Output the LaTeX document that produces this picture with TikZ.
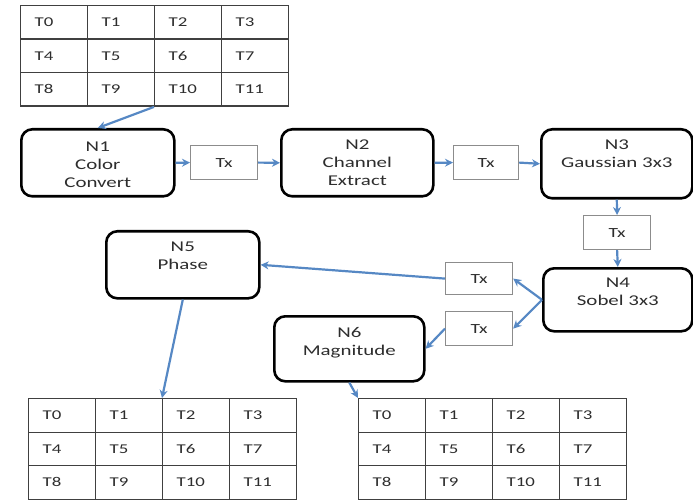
\documentclass[tikz,border=0pt]{standalone}
\usepackage{graphicx}
\usepackage{fontspec}
\setmainfont{Carlito}
\usetikzlibrary{arrows.meta}
\definecolor{arrowblue}{RGB}{86,136,196}
\definecolor{txtgray}{RGB}{45,45,45}
\newcommand{\sx}[1]{\scalebox{1.4}[1]{#1}}
\begin{document}
\begin{tikzpicture}[x=1bp,y=-1bp,
  proc/.style={draw=black, line width=2.6bp, rounded corners=11bp, anchor=north west, inner sep=0},
  txbox/.style={draw=black!45, line width=1.2bp, anchor=north west, inner sep=0, minimum width=67bp, minimum height=34bp, text=txtgray, font=\fontsize{14}{16}\selectfont},
  cell/.style={draw=black!75, line width=1.4bp, anchor=north west, minimum width=67bp, minimum height=33.5bp, text width=39bp, inner xsep=14bp, inner ysep=0, align=left, text=txtgray, font=\fontsize{13.5}{15}\selectfont},
  lbl/.style={anchor=north, align=center, inner sep=0, text=txtgray, font=\fontsize{15}{18}\selectfont},
  conn/.style={draw=arrowblue, line width=2.2bp, -{Stealth[length=8bp,width=8bp]}}]
\useasboundingbox (0,0) rectangle (693,500);

% grids
\foreach \g/\gx/\gy in {ga/20/5, gb/28/398, gc/358/398} {
  \foreach \r in {0,1,2} {
    \foreach \c in {0,1,2,3} {
      \pgfmathtruncatemacro\k{\r*4+\c}
      \node[cell] (\g-\r-\c) at ({\gx+\c*67},{\gy+\r*33.5}) {\sx{T\k}};
    }
  }
}

% process boxes
\node[proc, minimum width=153bp, minimum height=67bp] (n1) at (20,128) {};
\node[proc, minimum width=152bp, minimum height=67bp] (n2) at (280,128) {};
\node[proc, minimum width=151bp, minimum height=69bp] (n3) at (540,128) {};
\node[proc, minimum width=149bp, minimum height=63bp] (n4) at (542,267) {};
\node[proc, minimum width=153bp, minimum height=67bp] (n5) at (105,230) {};
\node[proc, minimum width=150bp, minimum height=65bp] (n6) at (273,315) {};

\node[lbl] (l1) at ([yshift=-14bp]n1.north) {\sx{N1}\\\sx{Color}\\\sx{Convert}};
\node[lbl] (l2) at ([yshift=-12bp]n2.north) {\sx{N2}\\\sx{Channel}\\\sx{Extract}};
\node[lbl] (l3) at ([yshift=-12bp]n3.north) {\sx{N3}\\\sx{Gaussian 3x3}};
\node[lbl] (l4) at ([yshift=-11bp]n4.north) {\sx{N4}\\\sx{Sobel 3x3}};
\node[lbl] (l5) at ([yshift=-12bp]n5.north) {\sx{N5}\\\sx{Phase}};
\node[lbl] (l6) at ([yshift=-12bp]n6.north) {\sx{N6}\\\sx{Magnitude}};

% transfer boxes
\node[txbox] (tx1) at (190,145) {\sx{Tx}};
\node[txbox, minimum width=65bp] (tx2) at (453,145) {\sx{Tx}};
\node[txbox] (tx3) at (583,215) {\sx{Tx}};
\node[txbox, minimum height=32bp] (tx4) at (445,262) {\sx{Tx}};
\node[txbox] (tx5) at (445,311) {\sx{Tx}};

% connectors
\draw[conn] (ga-2-2.south west) -- (n1.north);
\draw[conn] (n1.east) -- (tx1.west);
\draw[conn] (tx1.east) -- (n2.west);
\draw[conn] (n2.east) -- (tx2.west);
\draw[conn] (tx2.east) -- (n3.west);
\draw[conn] (n3.south) -- (tx3.north);
\draw[conn] (tx3.south) -- (n4.north);
\draw[conn] (n4.west) -- (tx4.east);
\draw[conn] (n4.west) -- (tx5.east);
\draw[conn] (tx4.west) -- (n5.east);
\draw[conn] (tx5.west) -- (n6.east);
\draw[conn] (n5.south) -- (gb-0-2.north west);
\draw[conn] (n6.south) -- (gc-0-0.north west);
\end{tikzpicture}
\end{document}
